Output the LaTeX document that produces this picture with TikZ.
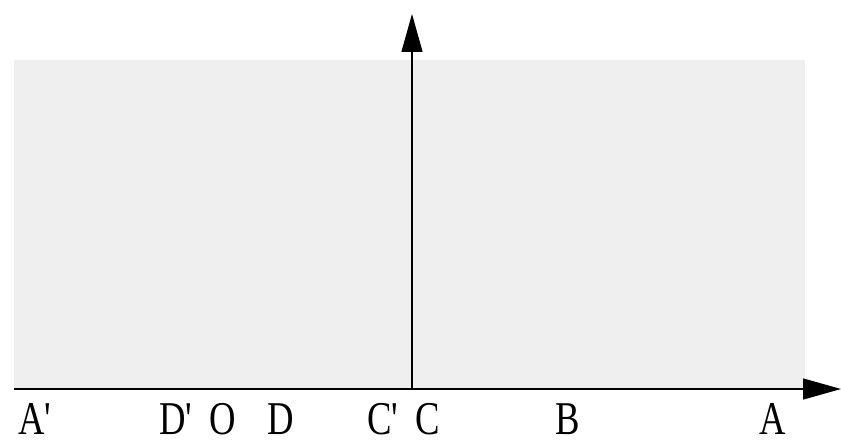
\documentclass[tikz,border=0pt]{standalone}
\usepackage{fontspec}
\setmainfont{Liberation Serif}[Ligatures=TeXOff]
\usetikzlibrary{arrows.meta}
\definecolor{panel}{RGB}{239,239,239}
\newcommand{\lbl}[1]{\scalebox{0.78}[1]{#1}}
\begin{document}
\begin{tikzpicture}[x=1pt,y=-1pt,
  axis/.style={line width=1.4pt,-{Triangle[length=38pt,width=21pt]}},
  lab/.style={anchor=base,inner sep=0pt,font=\fontsize{47}{47}\selectfont}]
\useasboundingbox (0,0) rectangle (841,446);
\fill[white] (0,0) rectangle (841,446);
\fill[panel] (14,60) rectangle (805,388);
\coordinate (xs) at (14,389);
\coordinate (xe) at (841,389);
\coordinate (ys) at (412,389);
\coordinate (ye) at (412,14);
\draw[axis] (xs) -- (xe);
\draw[axis] (ys) -- (ye);
\node[lab] (la1) at (35,434) {\lbl{A'}};
\node[lab] (ld1) at (176,434) {\lbl{D'}};
\node[lab] (lo) at (223,434) {\lbl{O}};
\node[lab] (ld) at (281,434) {\lbl{D}};
\node[lab] (lc1) at (383,434) {\lbl{C'}};
\node[lab] (lc) at (428,434) {\lbl{C}};
\node[lab] (lb) at (568,434) {\lbl{B}};
\node[lab] (la) at (773,434) {\lbl{A}};
\end{tikzpicture}
\end{document}
